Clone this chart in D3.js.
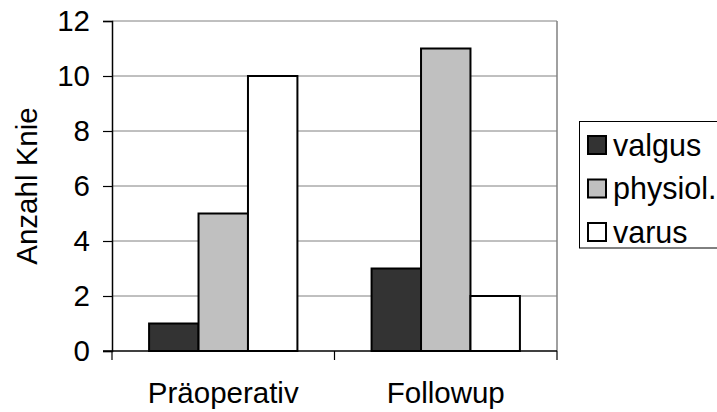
<!DOCTYPE html>
<html>
<head>
<meta charset="utf-8">
<script src="https://cdn.jsdelivr.net/npm/d3@7"></script>
<style>
  html, body { margin: 0; padding: 0; background: #fff; }
  svg { display: block; font-family: "Liberation Sans", Arial, sans-serif; }
</style>
</head>
<body>
<svg id="chart" width="717" height="412"></svg>
<script>
// Knee alignment counts before surgery and at follow-up
const categories = ["Präoperativ", "Followup"];
const seriesNames = ["valgus", "physiol.", "varus"];
const valgus = [1, 3];
const physiol = [5, 11];
const varus = [10, 2];
const yTicks = [0, 2, 4, 6, 8, 10, 12];
const seriesColors = ["#333333", "#c0c0c0", "#ffffff"];

const seriesValues = [valgus, physiol, varus];

const svg = d3.select("#chart");
const plot = { left: 112, right: 557, top: 21, bottom: 351 };
const fontSize = 29.5;

const y = d3.scaleLinear().domain([0, 12]).range([plot.bottom, plot.top]);
const x0 = d3.scaleBand().domain(categories).range([plot.left, plot.right]).padding(0);
const bw = x0.bandwidth();
const gap = bw * 0.75 / 4.5;
const x1 = d3.scaleBand().domain(seriesNames).range([gap, bw - gap]).padding(0);

// gridlines
svg.append("g")
  .selectAll("line")
  .data(yTicks.filter(t => t > 0))
  .join("line")
  .attr("x1", plot.left).attr("x2", plot.right)
  .attr("y1", d => y(d)).attr("y2", d => y(d))
  .attr("stroke", "#808080").attr("stroke-width", 1);

// right edge of plot area
svg.append("line")
  .attr("x1", plot.right).attr("x2", plot.right)
  .attr("y1", plot.top).attr("y2", plot.bottom)
  .attr("stroke", "#808080").attr("stroke-width", 1.5);

// bars
const groups = svg.append("g")
  .selectAll("g")
  .data(categories)
  .join("g")
  .attr("transform", d => `translate(${x0(d)},0)`);

groups.selectAll("rect")
  .data((c, ci) => seriesNames.map((s, si) => ({ s, si, v: seriesValues[si][ci] })))
  .join("rect")
  .attr("x", d => x1(d.s))
  .attr("width", x1.bandwidth())
  .attr("y", d => y(d.v))
  .attr("height", d => y(0) - y(d.v))
  .attr("fill", d => seriesColors[d.si])
  .attr("stroke", "#000")
  .attr("stroke-width", 2);

// y axis
const yAxis = d3.axisLeft(y).tickValues(yTicks).tickSize(9).tickPadding(13).tickFormat(d3.format("d"));
const gy = svg.append("g").attr("transform", `translate(${plot.left},0)`).call(yAxis);
gy.select(".domain").attr("stroke", "#000").attr("stroke-width", 1.5);
gy.selectAll(".tick line").attr("stroke", "#000").attr("stroke-width", 1.2);
gy.selectAll(".tick text").attr("font-size", fontSize).attr("fill", "#000")
  .attr("font-family", "Liberation Sans, Arial, sans-serif");

// x axis with boundary ticks between categories
const gx = svg.append("g").attr("transform", `translate(0,${plot.bottom})`);
gx.append("line")
  .attr("x1", plot.left - 9).attr("x2", plot.right)
  .attr("stroke", "#000").attr("stroke-width", 1.5);
const boundaries = [plot.left].concat(categories.map(c => x0(c) + bw));
gx.selectAll("line.tk")
  .data(boundaries)
  .join("line")
  .attr("class", "tk")
  .attr("x1", d => d).attr("x2", d => d)
  .attr("y1", 0).attr("y2", 9)
  .attr("stroke", "#000").attr("stroke-width", 1.2);
gx.selectAll("text")
  .data(categories)
  .join("text")
  .attr("x", d => x0(d) + bw / 2)
  .attr("y", 52)
  .attr("text-anchor", "middle")
  .attr("font-size", fontSize)
  .text(d => d);

// y axis title
svg.append("text")
  .attr("transform", `translate(37,${(plot.top + plot.bottom) / 2}) rotate(-90)`)
  .attr("text-anchor", "middle")
  .attr("font-size", fontSize)
  .text("Anzahl Knie");

// legend
const legend = svg.append("g").attr("transform", "translate(579,121)");
legend.append("rect")
  .attr("x", 0.5).attr("y", 0.5).attr("width", 150).attr("height", 126.5)
  .attr("fill", "#fff").attr("stroke", "#000").attr("stroke-width", 1);
const rows = legend.selectAll("g.row")
  .data(seriesNames)
  .join("g")
  .attr("class", "row")
  .attr("transform", (d, i) => `translate(0,${24 + i * 43.5})`);
rows.append("rect")
  .attr("x", 9).attr("y", -9).attr("width", 18).attr("height", 18)
  .attr("fill", (d, i) => seriesColors[i])
  .attr("stroke", "#000").attr("stroke-width", 2);
rows.append("text")
  .attr("x", 34).attr("y", 10.5)
  .attr("font-size", fontSize + 1)
  .text(d => d);
</script>
</body>
</html>
